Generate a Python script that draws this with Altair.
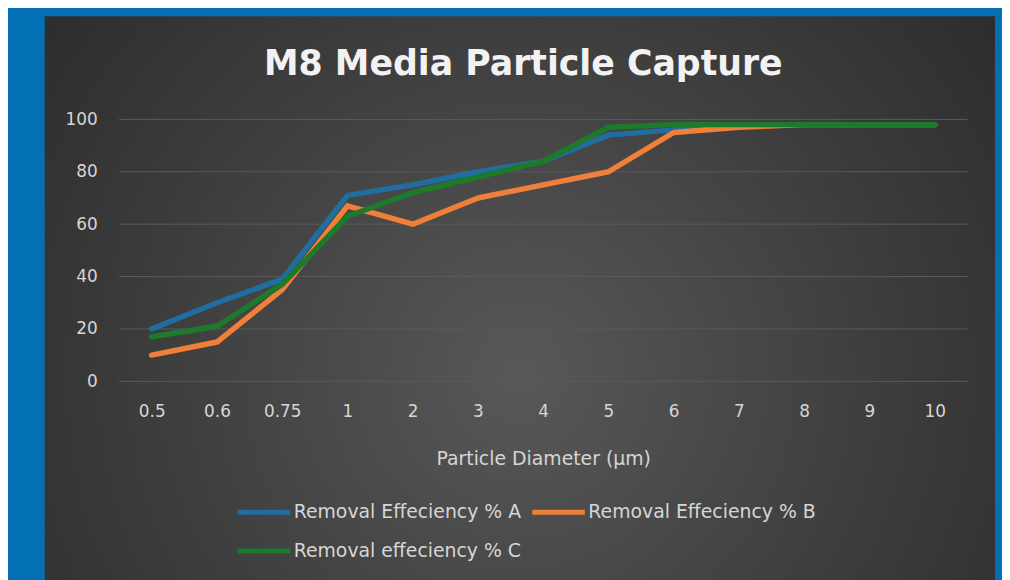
import altair as alt
import pandas as pd

# ---- data ----
diameters = ["0.5", "0.6", "0.75", "1", "2", "3", "4", "5", "6", "7", "8", "9", "10"]
eff_a = [20, 30, 39, 71, 75, 80, 84, 94, 96, 98, 98, 98, 98]
eff_b = [10, 15, 35, 67, 60, 70, 75, 80, 95, 97, 98, 98, 98]
eff_c = [17, 21, 37, 63, 72, 78, 84, 97, 98, 98, 98, 98, 98]
series_names = ["Removal Effeciency % A", "Removal Effeciency % B", "Removal effeciency % C"]
series_colors = ["#1f6e9f", "#f07f3a", "#1d7a2b"]
y_ticks = [0, 20, 40, 60, 80, 100]

rows = []
for name, vals in zip(series_names, [eff_a, eff_b, eff_c]):
    for d, v in zip(diameters, vals):
        rows.append({"diameter": d, "efficiency": v, "series": name})
df = pd.DataFrame(rows)
grid_df = pd.DataFrame({"efficiency": y_ticks})

W, H = 855, 264
FONT = "DejaVu Sans"
TXT = "#d6d6d6"

y_scale = alt.Scale(domain=[0, 100], nice=False)

panel = alt.Chart(alt.Data(values=[{"k": 1}])).mark_rect(
    fill=alt.Gradient(
        gradient="radial",
        stops=[alt.GradientStop(color="#585858", offset=0),
               alt.GradientStop(color="#3c3c3c", offset=0.55),
               alt.GradientStop(color="#272727", offset=1)],
        x1=0.5, y1=0.58, x2=0.5, y2=0.58, r1=0, r2=0.72,
    )
).encode(x=alt.value(-75), x2=alt.value(883), y=alt.value(-104), y2=alt.value(470))

grid = alt.Chart(grid_df).mark_rule(color="#5a5a5a", strokeWidth=1).encode(
    y=alt.Y("efficiency:Q", scale=y_scale, title=None)
)

lines = alt.Chart(df).mark_line(strokeWidth=5.5, strokeCap="round", strokeJoin="round").encode(
    x=alt.X("diameter:N", sort=diameters,
            scale=alt.Scale(type="point", padding=0.5),
            axis=alt.Axis(title="Particle Diameter (µm)", labelAngle=0, ticks=False,
                          domain=False, grid=False, labelPadding=22,
                          labelFont=FONT, labelFontSize=17, labelColor=TXT,
                          titleFont=FONT, titleFontSize=19, titleFontWeight="normal",
                          titleColor=TXT, titlePadding=31, zindex=1)),
    y=alt.Y("efficiency:Q", scale=y_scale, title=None,
            axis=alt.Axis(values=y_ticks, ticks=False, domain=False, grid=False,
                          labelPadding=22, labelFont=FONT, labelFontSize=17,
                          labelColor=TXT, zindex=1)),
    color=alt.Color("series:N", sort=series_names,
                    scale=alt.Scale(domain=series_names, range=series_colors),
                    legend=alt.Legend(title=None, orient="none", legendX=117, legendY=367,
                                      direction="horizontal", columns=2,
                                      symbolType="stroke", symbolSize=2809,
                                      symbolStrokeWidth=5, labelFont=FONT,
                                      labelFontSize=19, labelColor=TXT, labelLimit=400,
                                      labelOffset=1, columnPadding=0, rowPadding=-10,
                                      padding=0)),
)

chart = alt.layer(panel, grid, lines).properties(
    width=W, height=H,
    title=alt.TitleParams("M8 Media Particle Capture", font=FONT, fontSize=35,
                          fontWeight="bold", color="#f2f2f2", anchor="middle",
                          dx=-20, offset=-66),
    autosize=alt.AutoSizeParams(type="none"),
    padding={"left": 112, "top": 110, "right": 35, "bottom": 198},
).configure(background="#0470b4").configure_view(stroke=None)

chart.save("out.html", embed_options={"renderer": "svg", "actions": False})
